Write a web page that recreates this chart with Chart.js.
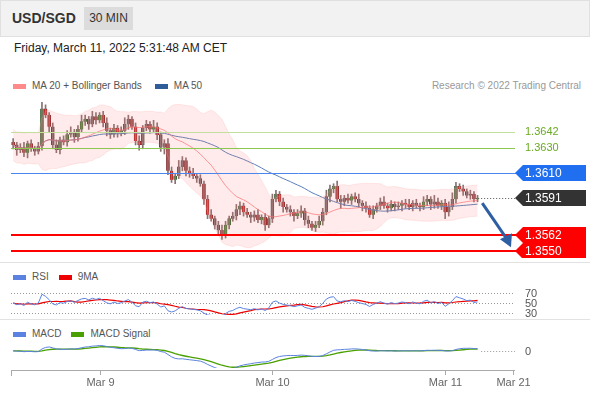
<!DOCTYPE html><html><head><meta charset="utf-8">
<script src="https://cdn.jsdelivr.net/npm/chart.js@4"></script>
<style>
body{margin:0;width:590px;height:400px;font-family:"Liberation Sans",Arial,sans-serif;background:#fff;position:relative;overflow:hidden}
#hdr{position:absolute;left:0;top:0;width:588px;height:35px;background:#f2f2f2;border:1px solid #e0e0e0}
#sym{position:absolute;left:12px;top:10px;font-size:14px;font-weight:bold;color:#333}
#tf{position:absolute;left:84px;top:7px;width:49px;height:23px;background:#dcdcdc;font-size:12px;color:#333;text-align:center;line-height:23px}
#dt{position:absolute;left:14px;top:41px;font-size:12px;color:#222}
.lg{position:absolute;font-size:10px;color:#555}
.sw{display:inline-block;width:13px;height:5px;margin-right:6px;vertical-align:middle}
canvas{position:absolute;left:0}
.sep{position:absolute;left:0;width:590px;height:1px;background:#e2e2e2}
</style></head><body>
<div id="hdr"></div><div id="sym">USD/SGD</div><div id="tf">30 MIN</div>
<div id="dt">Friday, March 11, 2022 5:31:48 AM CET</div>
<div class="lg" style="left:13px;top:80px"><span class="sw" style="background:#ff8a8a"></span>MA 20 + Bollinger Bands<span class="sw" style="background:#2f5d9a;margin-left:13px"></span>MA 50</div>
<div class="lg" style="right:9px;top:80px;color:#999">Research © 2022 Trading Central</div>
<div class="sep" style="top:262px"></div>
<div class="lg" style="left:13px;top:271px"><span class="sw" style="background:#5b82e0"></span>RSI<span class="sw" style="background:#e00;margin-left:10px"></span>9MA</div>
<div class="sep" style="top:319px"></div>
<div class="lg" style="left:13px;top:328px"><span class="sw" style="background:#5b82e0"></span>MACD<span class="sw" style="background:#4aa000;margin-left:10px"></span>MACD Signal</div>
<canvas id="cm" width="590" height="163" style="top:95px"></canvas>
<canvas id="cr" width="590" height="30" style="top:288px"></canvas>
<canvas id="cd" width="590" height="34" style="top:336px"></canvas>
<canvas id="cx" width="590" height="30" style="top:368px"></canvas>
<script>
const closes=[1.3632,1.3628,1.3630,1.3626,1.3633,1.3629,1.3627,1.3631,1.3660,1.3655,1.3646,1.3632,1.3628,1.3636,1.3634,1.3640,1.3642,1.3638,1.3644,1.3650,1.3652,1.3648,1.3654,1.3651,1.3655,1.3649,1.3643,1.3640,1.3645,1.3641,1.3643,1.3648,1.3652,1.3646,1.3635,1.3632,1.3645,1.3648,1.3644,1.3646,1.3640,1.3630,1.3633,1.3612,1.3605,1.3608,1.3615,1.3620,1.3612,1.3610,1.3608,1.3606,1.3602,1.3590,1.3578,1.3575,1.3570,1.3566,1.3562,1.3570,1.3575,1.3577,1.3582,1.3585,1.3580,1.3578,1.3576,1.3578,1.3574,1.3576,1.3570,1.3575,1.3590,1.3594,1.3588,1.3584,1.3582,1.3580,1.3577,1.3579,1.3581,1.3574,1.3571,1.3568,1.3570,1.3573,1.3580,1.3592,1.3598,1.3600,1.3590,1.3588,1.3591,1.3589,1.3592,1.3590,1.3587,1.3585,1.3583,1.3578,1.3582,1.3585,1.3588,1.3585,1.3583,1.3586,1.3584,1.3585,1.3587,1.3586,1.3584,1.3587,1.3585,1.3584,1.3588,1.3590,1.3586,1.3588,1.3585,1.3587,1.3580,1.3584,1.3590,1.3600,1.3598,1.3596,1.3593,1.3594,1.3590,1.3591];
const hiPips=[3,2,3,4,2,3,2,3,5,3,2,3,4,2,3,3,4,2,3,5,3,2,4,3,2,3,4,2,3,2,3,5,3,2,3,4,2,3,2,5,3,2,3,4,3,2,5,3,2,3,4,2,3,2,3,4,2,3,4,3,2,3,4,3,2,3,2,3,4,2,3,2,4,3,2,3,2,3,2,3,4,2,3,2,3,4,3,5,3,2,4,3,2,3,2,3,4,2,3,2,3,2,3,4,2,3,2,3,2,3,4,2,3,2,4,3,2,5,3,2,3,4,5,3,2,3,2,3,2,2];
const loPips=[3,4,2,3,4,2,3,2,3,2,4,3,2,3,2,3,2,4,3,2,3,4,2,3,2,3,4,3,2,3,2,3,4,2,3,4,3,2,3,2,4,3,5,3,2,3,2,3,4,3,2,3,2,4,3,2,3,4,3,2,3,2,3,4,3,2,4,3,2,3,4,2,3,2,3,4,2,3,4,2,3,4,3,2,3,2,3,2,4,3,2,5,3,2,3,2,3,4,3,2,3,2,3,2,3,2,3,2,4,3,2,3,2,3,2,3,4,3,2,3,5,3,2,3,2,3,2,3,2,2];
const levels=[1.3642,1.3630,1.3610,1.3562,1.3550];
const levelColors=['#c2df9e','#8cc850','#4a86ee','#f00','#f00'];
const lastPrice=1.3591, arrowTarget=1.3551;
const dateTicks=[24,72,120,138.9], dateLabels=['Mar 9','Mar 10','Mar 11','Mar 21'];
const rsiLevels=[70,50,30];

const N=closes.length, idx=closes.map((_,i)=>i);
const opens=closes.map((c,i)=>i?closes[i-1]:c+0.0002);
const highs=closes.map((c,i)=>Math.max(c,opens[i])+hiPips[i]*0.0001);
const lows=closes.map((c,i)=>Math.min(c,opens[i])-loPips[i]*0.0001);
function sma(a,n){return a.map((_,i)=>{const s=a.slice(Math.max(0,i-n+1),i+1);return s.reduce((x,y)=>x+y,0)/s.length;});}
const ma20=sma(closes,20), ma50=sma(closes,50);
const sd=closes.map((_,i)=>{const s=closes.slice(Math.max(0,i-19),i+1);const m=ma20[i];return Math.sqrt(s.reduce((x,y)=>x+(y-m)*(y-m),0)/s.length);});
const bbU=ma20.map((m,i)=>m+2*Math.max(sd[i],0.0006)), bbL=ma20.map((m,i)=>m-2*Math.max(sd[i],0.0006));
let ag=0.0002,al=0.0002;const rsi=closes.map((c,i)=>{if(!i)return 50;const d=c-closes[i-1];ag=(ag*13+Math.max(d,0))/14;al=(al*13+Math.max(-d,0))/14;return 100-100/(1+ag/al);});
const rsiMa=sma(rsi,9);
function ema(a,n){const k=2/(n+1);let e=a[0];return a.map(v=>e=v*k+e*(1-k));}
const e12=ema(closes,12),e26=ema(closes,26);const macd=e12.map((v,i)=>v-e26[i]);const sig=ema(macd,9);

const xs={type:'linear',min:-0.6,max:139.4,display:false,offset:false};
const lay={padding:{left:11,right:75,top:0,bottom:0}};
const base={responsive:false,animation:false,events:[],plugins:{legend:{display:false},tooltip:{enabled:false}},layout:lay};
const P=(a)=>a.map((v,i)=>({x:i,y:v}));
const line=(d,c,w,extra)=>Object.assign({type:'line',data:P(d),borderColor:c,borderWidth:w,pointRadius:0,fill:false,tension:0},extra||{});

const tags={id:'tags',afterDatasetsDraw(ch){
 const c=ch.ctx,y=ch.scales.y,x=ch.scales.x;
 levels.forEach((v,k)=>{const w=k>=3?2:1;const yy=w===1?Math.round(y.getPixelForValue(v))+0.5:Math.round(y.getPixelForValue(v));c.save();c.strokeStyle=levelColors[k];c.lineWidth=w;c.beginPath();c.moveTo(11,yy);c.lineTo(k<2?515:586,yy);c.stroke();c.restore();});
 c.save();c.setLineDash([1,2]);c.strokeStyle='#555';c.beginPath();const yl=Math.round(y.getPixelForValue(lastPrice))+0.5;c.moveTo(x.getPixelForValue(130),yl);c.lineTo(515,yl);c.stroke();c.restore();
 const box=(v,col,txt)=>{const yy=Math.round(y.getPixelForValue(v));c.save();c.fillStyle=col;c.beginPath();c.moveTo(515,yy);c.lineTo(523,yy-8);c.lineTo(586,yy-8);c.lineTo(586,yy+8);c.lineTo(523,yy+8);c.closePath();c.fill();c.fillStyle='#fff';c.font='12px "Liberation Sans",Arial';c.textBaseline='middle';c.fillText(txt,525,yy+1);c.restore();};
 const txt=(v,col)=>{const yy=y.getPixelForValue(v);c.save();c.fillStyle=col;c.font='11px "Liberation Sans",Arial';c.textBaseline='middle';c.fillText(v.toFixed(4),525,yy);c.restore();};
 txt(levels[0],'#6aaa20');txt(levels[1],'#6aaa20');
 box(levels[2],'#1f6ff0',levels[2].toFixed(4));box(lastPrice,'#333',lastPrice.toFixed(4));
 box(levels[3],'#f00',levels[3].toFixed(4));box(levels[4],'#f00',levels[4].toFixed(4));
 c.save();c.strokeStyle='#2e5fa3';c.fillStyle='#2e5fa3';c.lineWidth=3;const x0=x.getPixelForValue(130.3),y0=y.getPixelForValue(lastPrice-0.0004),x1=x.getPixelForValue(138),y1=y.getPixelForValue(arrowTarget+0.0002);
 c.beginPath();c.moveTo(x0,y0);c.lineTo(x1-3,y1-8);c.stroke();c.beginPath();c.moveTo(x1+1,y1);c.lineTo(x1-10,y1-8);c.lineTo(x1+2,y1-14);c.closePath();c.fill();c.restore();
}};
new Chart(document.getElementById('cm'),{type:'bar',data:{datasets:[
 line(bbU,'rgba(255,170,170,0.25)',1,{fill:'+1',backgroundColor:'rgba(255,120,120,0.15)',data:P(bbU)}),
 line(bbL,'rgba(255,170,170,0.25)',1),
 line(ma20,'rgba(250,110,110,0.7)',1),
 line(ma50,'#5a7fb5',1),
 {type:'bar',data:idx.map(i=>({x:i,y:[lows[i],highs[i]]})),backgroundColor:'#8a7070',barThickness:1,grouped:false},
 {type:'bar',data:idx.map(i=>({x:i,y:[opens[i],closes[i]]})),backgroundColor:idx.map(i=>closes[i]>=opens[i]?'#2e8b1e':'#e00000'),borderColor:'#444',borderWidth:0.5,barThickness:3,grouped:false}
]},options:Object.assign({},base,{scales:{x:xs,y:{min:1.35446,max:1.36706,display:false}}}),plugins:[tags]});

const rsiPl={id:'rl',beforeDatasetsDraw(ch){const c=ch.ctx,y=ch.scales.y;rsiLevels.forEach(v=>{const yy=Math.round(y.getPixelForValue(v))+0.5;c.save();c.setLineDash([1,2]);c.strokeStyle='#999';c.beginPath();c.moveTo(11,yy);c.lineTo(515,yy);c.stroke();c.fillStyle='#555';c.font='11px "Liberation Sans",Arial';c.textBaseline='middle';c.fillText(String(v),525,yy);c.restore();});}};
new Chart(document.getElementById('cr'),{type:'line',data:{datasets:[line(rsi,'#5b82e0',1),line(rsiMa,'#e00',1.2)]},options:Object.assign({},base,{layout:{padding:{left:11,right:75,top:3,bottom:3}},scales:{x:xs,y:{min:25,max:75,display:false}}}),plugins:[rsiPl]});

const mPl={id:'ml',beforeDatasetsDraw(ch){const c=ch.ctx,y=ch.scales.y,x=ch.scales.x;const yy=Math.round(y.getPixelForValue(0))+0.5;c.save();c.setLineDash([1,2]);c.strokeStyle='#999';c.beginPath();c.moveTo(x.getPixelForValue(130),yy);c.lineTo(515,yy);c.stroke();c.fillStyle='#555';c.font='11px "Liberation Sans",Arial';c.textBaseline='middle';c.fillText('0',525,yy);c.restore();}};
new Chart(document.getElementById('cd'),{type:'line',data:{datasets:[line(macd,'#5b82e0',1),line(sig,'#4aa000',1.3)]},options:Object.assign({},base,{layout:{padding:{left:11,right:75,top:2,bottom:2}},scales:{x:xs,y:{min:-0.0016,max:0.0012,display:false}}}),plugins:[mPl]});

const axPl={id:'ax',afterDraw(ch){const c=ch.ctx,x=ch.scales.x;c.save();c.strokeStyle='#aaa';c.beginPath();c.moveTo(11,2.5);c.lineTo(515,2.5);c.moveTo(11.5,2);c.lineTo(11.5,8);c.stroke();
 dateTicks.forEach((v,k)=>{const px=Math.round(x.getPixelForValue(v))+0.5;c.beginPath();c.moveTo(px,2);c.lineTo(px,7);c.stroke();c.fillStyle='#666';c.font='11px "Liberation Sans",Arial';c.textAlign='center';c.textBaseline='middle';c.fillText(dateLabels[k],px,15);});c.restore();}};
new Chart(document.getElementById('cx'),{type:'line',data:{datasets:[]},options:Object.assign({},base,{scales:{y:{display:false},x:xs}}),plugins:[axPl]});
</script></body></html>
